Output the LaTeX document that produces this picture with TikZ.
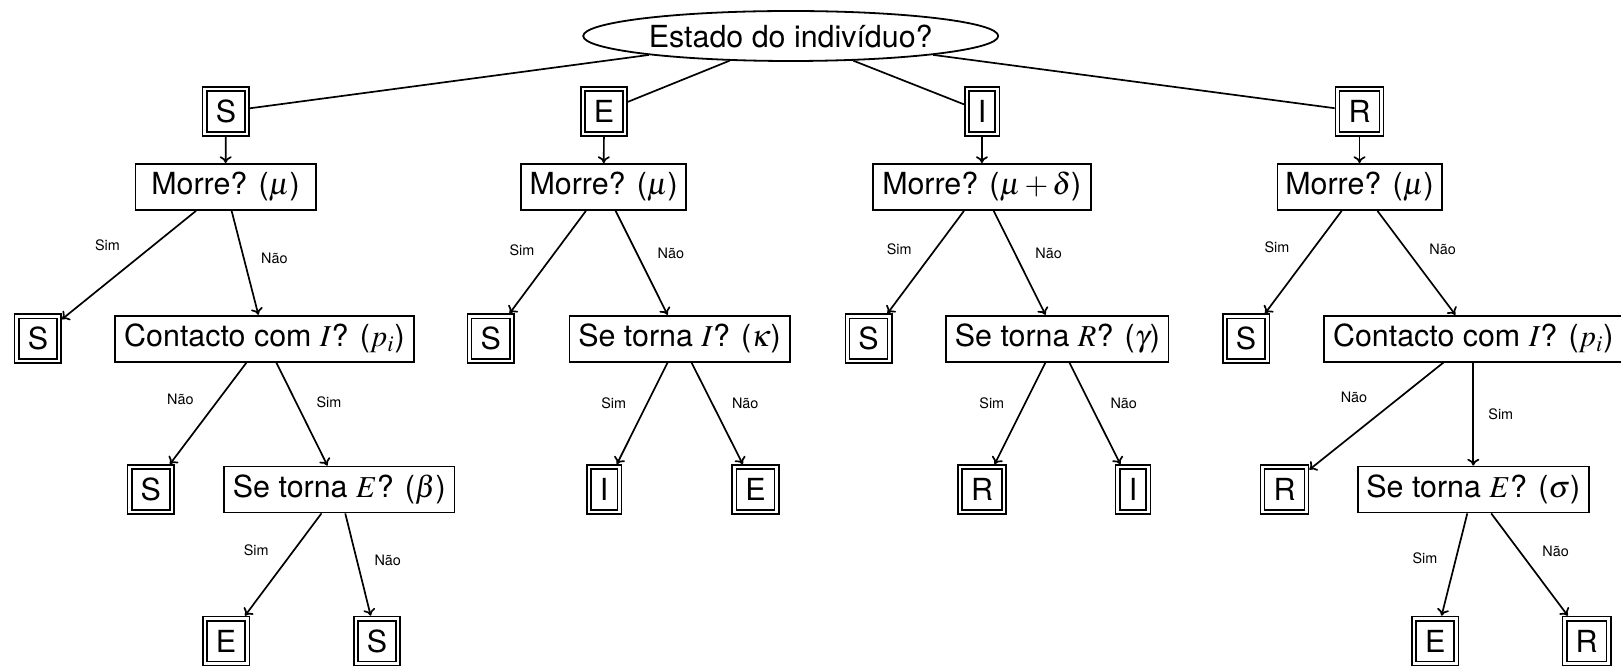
\documentclass[tikz,border=0pt]{standalone}
\usepackage{mathptmx}
\usepackage[no-math]{fontspec}
\setmainfont{TeX Gyre Heros}
\usetikzlibrary{shapes.geometric,arrows.meta}
\tikzset{
  every node/.style={font=\fontsize{15.2}{18}\selectfont},
  rootnode/.style={ellipse, draw, line width=0.9pt, minimum width=207.5pt, minimum height=25pt, inner sep=0pt},
  letterbox/.style={draw, double, line width=0.8pt, double distance=1.3pt, minimum height=22.4pt, inner xsep=5.5pt, inner ysep=0pt, outer sep=1.45pt},
  question/.style={draw, line width=0.9pt, minimum height=23pt, inner xsep=2pt, inner ysep=0pt},
  lbl/.style={font=\fontsize{7.2}{8}\selectfont, inner sep=0pt},
  arr/.style={-{To[length=3.4pt,width=6pt]}, line width=0.85pt},
  link/.style={line width=0.85pt},
}
\begin{document}
\begin{tikzpicture}[x=0.5pt,y=-0.5pt]
\useasboundingbox (0,0) rectangle (1621,667);
% root
\node[rootnode] (root) at (790.7,36) {Estado do indivíduo?};
% level 1
\node[letterbox] (s1) at (225.9,111.5) {S};
\node[letterbox] (e1) at (604,111.5) {E};
\node[letterbox] (i1) at (982.1,111.5) {I};
\node[letterbox] (r1) at (1359.5,111.5) {R};
% level 2
\node[question, minimum width=90.1pt] (ms) at (225.5,187) {Morre? ($\mu$)};
\node[question, minimum width=82.6pt] (me) at (603.7,187) {Morre? ($\mu$)};
\node[question, minimum width=109.1pt] (mi) at (981.8,187) {Morre? ($\mu+\delta$)};
\node[question, minimum width=82.1pt] (mr) at (1359.5,187) {Morre? ($\mu$)};
% level 3
\node[letterbox] (s3a) at (37.9,338.7) {S};
\node[question, minimum width=149.3pt] (cs) at (264.5,338.7) {Contacto com $I$? ($p_i$)};
\node[letterbox] (s3b) at (490.7,338.7) {S};
\node[question, minimum width=110.1pt] (ti) at (679.5,338.7) {Se torna $I$? ($\kappa$)};
\node[letterbox] (s3c) at (868.6,338.7) {S};
\node[question, minimum width=111.1pt] (tr) at (1057.4,338.7) {Se torna $R$? ($\gamma$)};
\node[letterbox] (s3d) at (1246.1,338.7) {S};
\node[question, minimum width=149.1pt] (cr) at (1473.3,338.7) {Contacto com $I$? ($p_i$)};
% level 4
\node[letterbox] (s4a) at (150.8,489.5) {S};
\node[question, minimum width=115.1pt] (te) at (339.3,489.5) {Se torna $E$? ($\beta$)};
\node[letterbox] (i4) at (604.2,489.5) {I};
\node[letterbox] (e4) at (755.5,489.5) {E};
\node[letterbox] (r4) at (982,489.5) {R};
\node[letterbox] (i4b) at (1133,489.5) {I};
\node[letterbox] (r4c) at (1284.5,489.5) {R};
\node[question, minimum width=115.6pt] (ts) at (1473.3,489.5) {Se torna $E$? ($\sigma$)};
% level 5
\node[letterbox] (e5a) at (226.1,641) {E};
\node[letterbox] (s5a) at (377,641) {S};
\node[letterbox] (e5b) at (1435.2,641) {E};
\node[letterbox] (r5b) at (1586.7,641) {R};
% root links
\draw[link] (root) -- (s1);
\draw[link] (root) -- (e1);
\draw[link] (root) -- (i1);
\draw[link] (root) -- (r1);
% arrows
\draw[arr] (s1) -- (ms);
\draw[arr] (e1) -- (me);
\draw[arr] (i1) -- (mi);
\draw[arr] (r1) -- (mr);
\draw[arr] (ms) -- (s3a);
\draw[arr] (ms) -- (cs);
\draw[arr] (cs) -- (s4a);
\draw[arr] (cs) -- (te);
\draw[arr] (te) -- (e5a);
\draw[arr] (te) -- (s5a);
\draw[arr] (me) -- (s3b);
\draw[arr] (me) -- (ti);
\draw[arr] (ti) -- (i4);
\draw[arr] (ti) -- (e4);
\draw[arr] (mi) -- (s3c);
\draw[arr] (mi) -- (tr);
\draw[arr] (tr) -- (r4);
\draw[arr] (tr) -- (i4b);
\draw[arr] (mr) -- (s3d);
\draw[arr] (mr) -- (cr);
\draw[arr] (cr) -- (r4c);
\draw[arr] (cr) -- (ts);
\draw[arr] (ts) -- (e5b);
\draw[arr] (ts) -- (r5b);
% labels
\node[lbl] (l1) at (107.4,245.7) {Sim};
\node[lbl] (l2) at (274.4,258.3) {Não};
\node[lbl] (l3) at (180.4,399) {Não};
\node[lbl] (l4) at (328.9,402.7) {Sim};
\node[lbl] (l5) at (256.2,550.7) {Sim};
\node[lbl] (l6) at (387.7,560) {Não};
\node[lbl] (l7) at (522,250) {Sim};
\node[lbl] (l8) at (670.9,253) {Não};
\node[lbl] (l9) at (613.7,403) {Sim};
\node[lbl] (l10) at (745.2,403) {Não};
\node[lbl] (l11) at (899.2,249) {Sim};
\node[lbl] (l12) at (1048.6,253) {Não};
\node[lbl] (l13) at (991.8,403) {Sim};
\node[lbl] (l14) at (1123.7,403) {Não};
\node[lbl] (l15) at (1277,247.7) {Sim};
\node[lbl] (l16) at (1442.6,249) {Não};
\node[lbl] (l17) at (1354,397.3) {Não};
\node[lbl] (l18) at (1500.8,414) {Sim};
\node[lbl] (l19) at (1425,558.7) {Sim};
\node[lbl] (l20) at (1555.6,551) {Não};
\end{tikzpicture}
\end{document}
